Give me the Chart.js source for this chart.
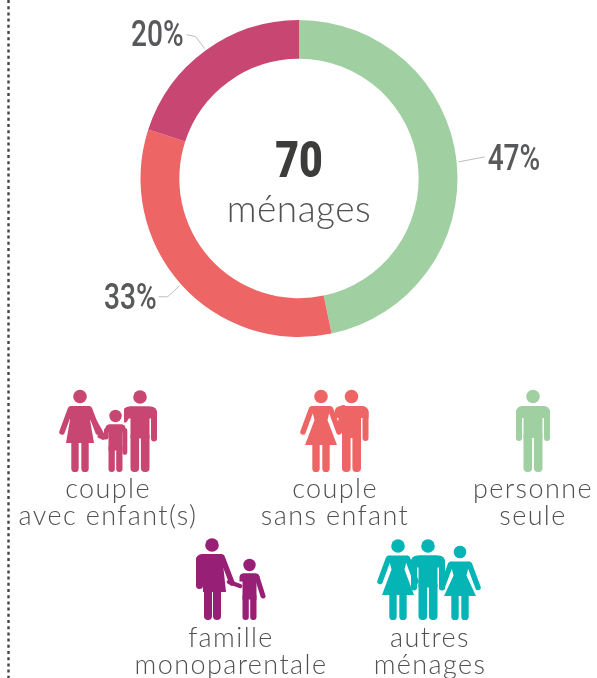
<!DOCTYPE html>
<html lang="fr"><head><meta charset="utf-8">
<script src="https://cdn.jsdelivr.net/npm/chart.js@4"></script>
<style>html,body{margin:0;padding:0;background:#fff}canvas{display:block}</style>
</head><body><canvas id="c" width="597" height="678"></canvas>
<script>
const categories = ["personne seule","couple sans enfant","couple avec enfant(s)"];
const values = [46.7,33.3,20];
const colors = ["#A0D0A2","#EE6566","#C84672"];
const centerNumber = "70";
const centerWord = "ménages";
const legendLines = [
  ["couple","avec enfant(s)"],["couple","sans enfant"],["personne","seule"],
  ["famille","monoparentale"],["autres","ménages"]];
const TXT="#515153";
const HEAD=6.8;

function bar(ctx,x,y,w,h,r){ctx.beginPath();ctx.roundRect(x,y,w,h,r);ctx.fill();}
function limb(ctx,x1,y1,x2,y2,w){ctx.save();ctx.strokeStyle=ctx.fillStyle;ctx.lineWidth=w;ctx.lineCap='round';ctx.lineJoin='round';ctx.beginPath();ctx.moveTo(x1,y1);ctx.lineTo(x2,y2);ctx.stroke();ctx.restore();}
function head(ctx,cx,cy,r){ctx.beginPath();ctx.arc(cx,cy,r||HEAD,0,7);ctx.fill();}
function squeezed(ctx,text,x,y,sx){ctx.save();ctx.translate(x,y);ctx.scale(sx,1);ctx.fillText(text,0,0);ctx.restore();}
function man(ctx,cx,hy,foot,col,opt={}){
  ctx.fillStyle=col;head(ctx,cx,hy);
  const t=hy+9.5;
  ctx.beginPath();ctx.roundRect(cx-17,t,34,12,[6,6,0,0]);ctx.fill();
  bar(ctx,cx-9.5,t,19,32,0);
  if(!opt.noLeft)bar(ctx,cx-17,t+3,6,opt.arm||32,3);
  bar(ctx,cx+11,t+3,6,opt.arm||32,3);
  bar(ctx,cx-9.5,t+26,8.6,foot-t-26,4);
  bar(ctx,cx+0.9,t+26,8.6,foot-t-26,4);
}
function woman(ctx,cx,hy,foot,col,o={}){
  const skirt=o.skirt||hy+48;
  const hw=o.hw||16;
  ctx.fillStyle=col;head(ctx,cx,hy,o.r);
  const t=hy+9.5;
  const w=o.solid?10:6.5;
  ctx.beginPath();ctx.moveTo(cx-10,t);ctx.lineTo(cx+10,t);ctx.lineTo(cx+w,t+14);ctx.lineTo(cx+hw,skirt);ctx.lineTo(cx-hw,skirt);ctx.lineTo(cx-w,t+14);ctx.closePath();ctx.fill();
  limb(ctx,cx-9.5,t+3,cx-18,t+26,5.5);
  if(o.right!==false)limb(ctx,cx+9.5,t+3,cx+18,t+26,5.5);
  bar(ctx,cx-8.7,skirt-3,7.4,foot-skirt+3,3.6);
  bar(ctx,cx+1.3,skirt-3,7.4,foot-skirt+3,3.6);
}
function child(ctx,cx,hy,foot,col,o={}){
  ctx.fillStyle=col;head(ctx,cx,hy,6.2);
  const t=hy+8.5;
  ctx.beginPath();ctx.roundRect(cx-10,t,20,8,[4,4,0,0]);ctx.fill();
  bar(ctx,cx-7,t,14,26,0);
  bar(ctx,cx-7,t+20,6.3,foot-t-20,3);
  bar(ctx,cx+0.7,t+20,6.3,foot-t-20,3);
}

const overlay={id:'overlay',afterDraw(chart){
  const ctx=chart.ctx;ctx.save();
  // dotted rule
  ctx.strokeStyle='#444';ctx.lineWidth=2.4;ctx.setLineDash([3,3.2]);
  ctx.beginPath();ctx.moveTo(8.5,0);ctx.lineTo(8.5,678);ctx.stroke();ctx.setLineDash([]);

  // centre and slice labels
  const arcs=chart.getDatasetMeta(0).data;
  const a0=arcs[0],cx=a0.x,cy=a0.y,R=a0.outerRadius;
  ctx.textAlign='center';ctx.textBaseline='alphabetic';
  ctx.fillStyle='#3C3C3B';ctx.font='900 50px Roboto';
  squeezed(ctx,centerNumber,cx,cy-2,0.82);
  ctx.fillStyle=TXT;ctx.font='300 37px Lato';ctx.letterSpacing='0.5px';
  ctx.fillText(centerWord,cx,cy+43);ctx.letterSpacing='0px';

  const lead=[[[26,-5]],[[-12,11],[-21,11]],[[-9,-12],[-18,-14]]];
  const lab=[[29,8,'left'],[-23,23,'right'],[-21,-3,'right']];
  arcs.forEach((a,i)=>{
    const m=(a.startAngle+a.endAngle)/2;
    const px=cx+Math.cos(m)*(R+2),py=cy+Math.sin(m)*(R+2);
    ctx.strokeStyle='#BDBDBD';ctx.lineWidth=1;ctx.beginPath();ctx.moveTo(px,py);
    lead[i].forEach(d=>ctx.lineTo(px+d[0],py+d[1]));ctx.stroke();
    ctx.fillStyle='#58595B';ctx.font='500 36px Roboto';
    ctx.textAlign=lab[i][2];ctx.textBaseline='alphabetic';
    squeezed(ctx,Math.round(values[i])+'%',px+lab[i][0],py+lab[i][1],0.78);
  });

  // pictograms
  let p=colors[2];
  woman(ctx,80,396.5,472,p,{skirt:443,solid:true,hw:14});
  limb(ctx,90,414,103,437,5.5);limb(ctx,100,436,106,437,5);
  man(ctx,140,397,472,p,{noLeft:true});limb(ctx,131,409,125,420,5);
  ctx.fillStyle='#fff';ctx.fillRect(121,407,3,22);
  ctx.fillStyle=p;child(ctx,115.5,416,472,p);bar(ctx,122.5,428,4.8,27,2.4);
  bar(ctx,104,428,4.5,10,2);
  p=colors[1];
  woman(ctx,321,396.5,472,p,{skirt:445});
  man(ctx,351.5,396.5,472,p,{noLeft:true});limb(ctx,343,408,340,430,6);
  p=colors[0];
  man(ctx,533,396.5,472,p);
  p='#981F76';
  ctx.fillStyle=p;head(ctx,212,545);
  ctx.beginPath();ctx.moveTo(202,554);ctx.lineTo(222,554);ctx.lineTo(226,592);ctx.lineTo(203,592);ctx.closePath();ctx.fill();
  ctx.beginPath();ctx.roundRect(196,554,12,10,[6,0,0,0]);ctx.fill();
  bar(ctx,196,556,7,33,3.5);
  bar(ctx,204,585,8,35,4);bar(ctx,213,585,8,35,4);
  limb(ctx,222,557,232,583,5.5);limb(ctx,229,582,240,586,4.5);
  child(ctx,249.5,565,620,p);limb(ctx,257,577,263,596,5);
  p='#05B5B5';
  woman(ctx,398,546,620,p,{skirt:595});
  woman(ctx,460,552,620,p,{skirt:596,r:6.5});
  ctx.strokeStyle='#fff';ctx.lineWidth=1.2;ctx.beginPath();ctx.arc(460,552,7.2,0,7);ctx.stroke();
  man(ctx,428,546,620,p,{arm:32});

  // legend text
  ctx.fillStyle=TXT;ctx.font='300 27px Lato';ctx.letterSpacing='1.4px';ctx.textAlign='center';ctx.textBaseline='alphabetic';
  const xs=[108,335,533,231,430],ys=[498,498,498,647,647];
  legendLines.forEach((l,i)=>{ctx.fillText(l[0],xs[i],ys[i]);ctx.fillText(l[1],xs[i],ys[i]+27);});
  ctx.restore();
}};

new Chart(document.getElementById('c'),{
  type:'doughnut',
  data:{labels:categories,datasets:[{data:values,backgroundColor:colors,borderWidth:0}]},
  options:{responsive:false,animation:false,cutout:'75.5%',rotation:0,
    layout:{padding:{left:140,right:139,top:20,bottom:341}},
    plugins:{legend:{display:false},tooltip:{enabled:false}}},
  plugins:[overlay]
});
</script></body></html>
